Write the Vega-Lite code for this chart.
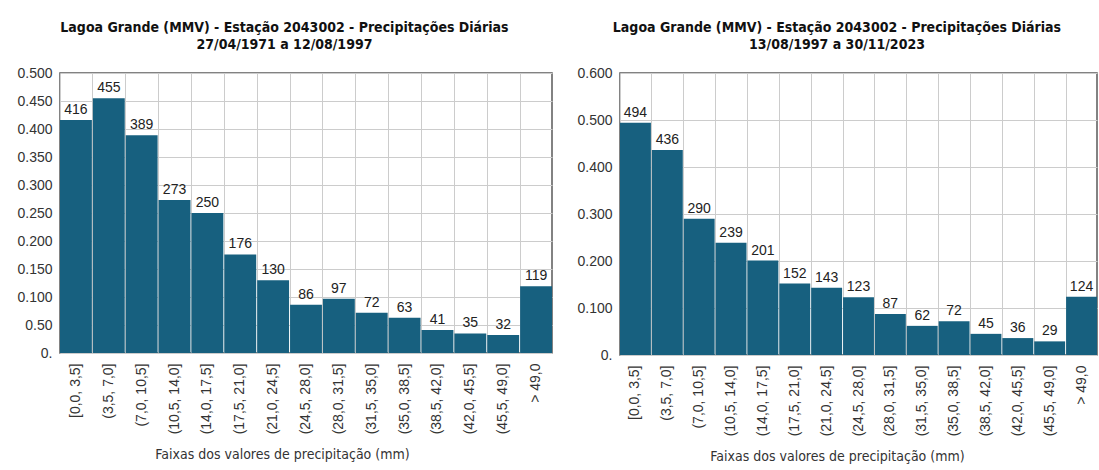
{
  "$schema": "https://vega.github.io/schema/vega-lite/v6.json",
  "padding": {"left": 16, "top": 20, "right": 0, "bottom": 0},
  "spacing": 23,
  "background": "white",
  "datasets": {
    "p1": [
      {"faixa": "[0,0, 3,5]", "valor": 0.416, "n": 416},
      {"faixa": "(3,5, 7,0]", "valor": 0.455, "n": 455},
      {"faixa": "(7,0, 10,5]", "valor": 0.389, "n": 389},
      {"faixa": "(10,5, 14,0]", "valor": 0.273, "n": 273},
      {"faixa": "(14,0, 17,5]", "valor": 0.250, "n": 250},
      {"faixa": "(17,5, 21,0]", "valor": 0.176, "n": 176},
      {"faixa": "(21,0, 24,5]", "valor": 0.130, "n": 130},
      {"faixa": "(24,5, 28,0]", "valor": 0.086, "n": 86},
      {"faixa": "(28,0, 31,5]", "valor": 0.097, "n": 97},
      {"faixa": "(31,5, 35,0]", "valor": 0.072, "n": 72},
      {"faixa": "(35,0, 38,5]", "valor": 0.063, "n": 63},
      {"faixa": "(38,5, 42,0]", "valor": 0.041, "n": 41},
      {"faixa": "(42,0, 45,5]", "valor": 0.035, "n": 35},
      {"faixa": "(45,5, 49,0]", "valor": 0.032, "n": 32},
      {"faixa": "> 49,0", "valor": 0.119, "n": 119}
    ],
    "p2": [
      {"faixa": "[0,0, 3,5]", "valor": 0.494, "n": 494},
      {"faixa": "(3,5, 7,0]", "valor": 0.436, "n": 436},
      {"faixa": "(7,0, 10,5]", "valor": 0.290, "n": 290},
      {"faixa": "(10,5, 14,0]", "valor": 0.239, "n": 239},
      {"faixa": "(14,0, 17,5]", "valor": 0.201, "n": 201},
      {"faixa": "(17,5, 21,0]", "valor": 0.152, "n": 152},
      {"faixa": "(21,0, 24,5]", "valor": 0.143, "n": 143},
      {"faixa": "(24,5, 28,0]", "valor": 0.123, "n": 123},
      {"faixa": "(28,0, 31,5]", "valor": 0.087, "n": 87},
      {"faixa": "(31,5, 35,0]", "valor": 0.062, "n": 62},
      {"faixa": "(35,0, 38,5]", "valor": 0.072, "n": 72},
      {"faixa": "(38,5, 42,0]", "valor": 0.045, "n": 45},
      {"faixa": "(42,0, 45,5]", "valor": 0.036, "n": 36},
      {"faixa": "(45,5, 49,0]", "valor": 0.029, "n": 29},
      {"faixa": "> 49,0", "valor": 0.124, "n": 124}
    ]
  },
  "config": {
    "font": "Liberation Sans",
    "view": {"stroke": "#5a5a5a", "strokeWidth": 1.5},
    "axis": {
      "labelFont": "Liberation Sans",
      "labelFontSize": 14,
      "labelColor": "#333333",
      "titleFont": "Liberation Sans Narrow, DejaVu Sans Condensed, sans-serif",
      "titleFontSize": 14,
      "titleFontWeight": "normal",
      "titleColor": "#333333",
      "gridColor": "#cccccc",
      "gridWidth": 1,
      "domain": false,
      "ticks": false
    },
    "title": {
      "font": "Liberation Sans Narrow, DejaVu Sans Condensed, sans-serif",
      "fontSize": 14,
      "fontWeight": "bold",
      "color": "#111111",
      "lineHeight": 17,
      "anchor": "middle",
      "frame": "bounds",
      "offset": 14
    }
  },
  "hconcat": [
    {
      "title": {"text": ["Lagoa Grande (MMV) -  Estação 2043002 - Precipitações  Diárias", "27/04/1971 a 12/08/1997"]},
      "width": 492,
      "height": 280,
      "data": {"name": "p1"},
      "encoding": {
        "x": {
          "field": "faixa", "type": "nominal", "sort": null,
          "scale": {"paddingInner": 0.03, "paddingOuter": 0},
          "axis": {
            "title": "Faixas dos valores de precipitação (mm)",
            "labelAngle": -90, "labelAlign": "right", "labelBaseline": "middle",
            "labelPadding": 10, "titlePadding": 14, "titleX": 222,
            "grid": true, "bandPosition": 0
          }
        },
        "y": {
          "field": "valor", "type": "quantitative",
          "scale": {"domain": [0, 0.5], "nice": false},
          "axis": {
            "title": null,
            "values": [0, 0.05, 0.1, 0.15, 0.2, 0.25, 0.3, 0.35, 0.4, 0.45, 0.5],
            "labelExpr": "datum.value == 0 ? '0.' : (abs(datum.value - 0.05) < 0.001 ? '0.50' : format(datum.value, '.3f'))",
            "labelPadding": 8
          }
        }
      },
      "layer": [
        {"mark": {"type": "bar", "color": "#17607f"}},
        {
          "mark": {"type": "text", "baseline": "bottom", "dy": -3, "fontSize": 14, "color": "#222222", "font": "Liberation Sans"},
          "encoding": {"text": {"field": "n", "type": "quantitative"}}
        }
      ]
    },
    {
      "title": {"text": ["Lagoa Grande (MMV) -  Estação 2043002 - Precipitações  Diárias", "13/08/1997 a 30/11/2023"]},
      "width": 477,
      "height": 282,
      "data": {"name": "p2"},
      "encoding": {
        "x": {
          "field": "faixa", "type": "nominal", "sort": null,
          "scale": {"paddingInner": 0.03, "paddingOuter": 0},
          "axis": {
            "title": "Faixas dos valores de precipitação (mm)",
            "labelAngle": -90, "labelAlign": "right", "labelBaseline": "middle",
            "labelPadding": 10, "titlePadding": 14, "titleX": 217,
            "grid": true, "bandPosition": 0
          }
        },
        "y": {
          "field": "valor", "type": "quantitative",
          "scale": {"domain": [0, 0.6], "nice": false},
          "axis": {
            "title": null,
            "values": [0, 0.1, 0.2, 0.3, 0.4, 0.5, 0.6],
            "labelExpr": "datum.value == 0 ? '0.' : format(datum.value, '.3f')",
            "labelPadding": 8
          }
        }
      },
      "layer": [
        {"mark": {"type": "bar", "color": "#17607f"}},
        {
          "mark": {"type": "text", "baseline": "bottom", "dy": -3, "fontSize": 14, "color": "#222222", "font": "Liberation Sans"},
          "encoding": {"text": {"field": "n", "type": "quantitative"}}
        }
      ]
    }
  ]
}
